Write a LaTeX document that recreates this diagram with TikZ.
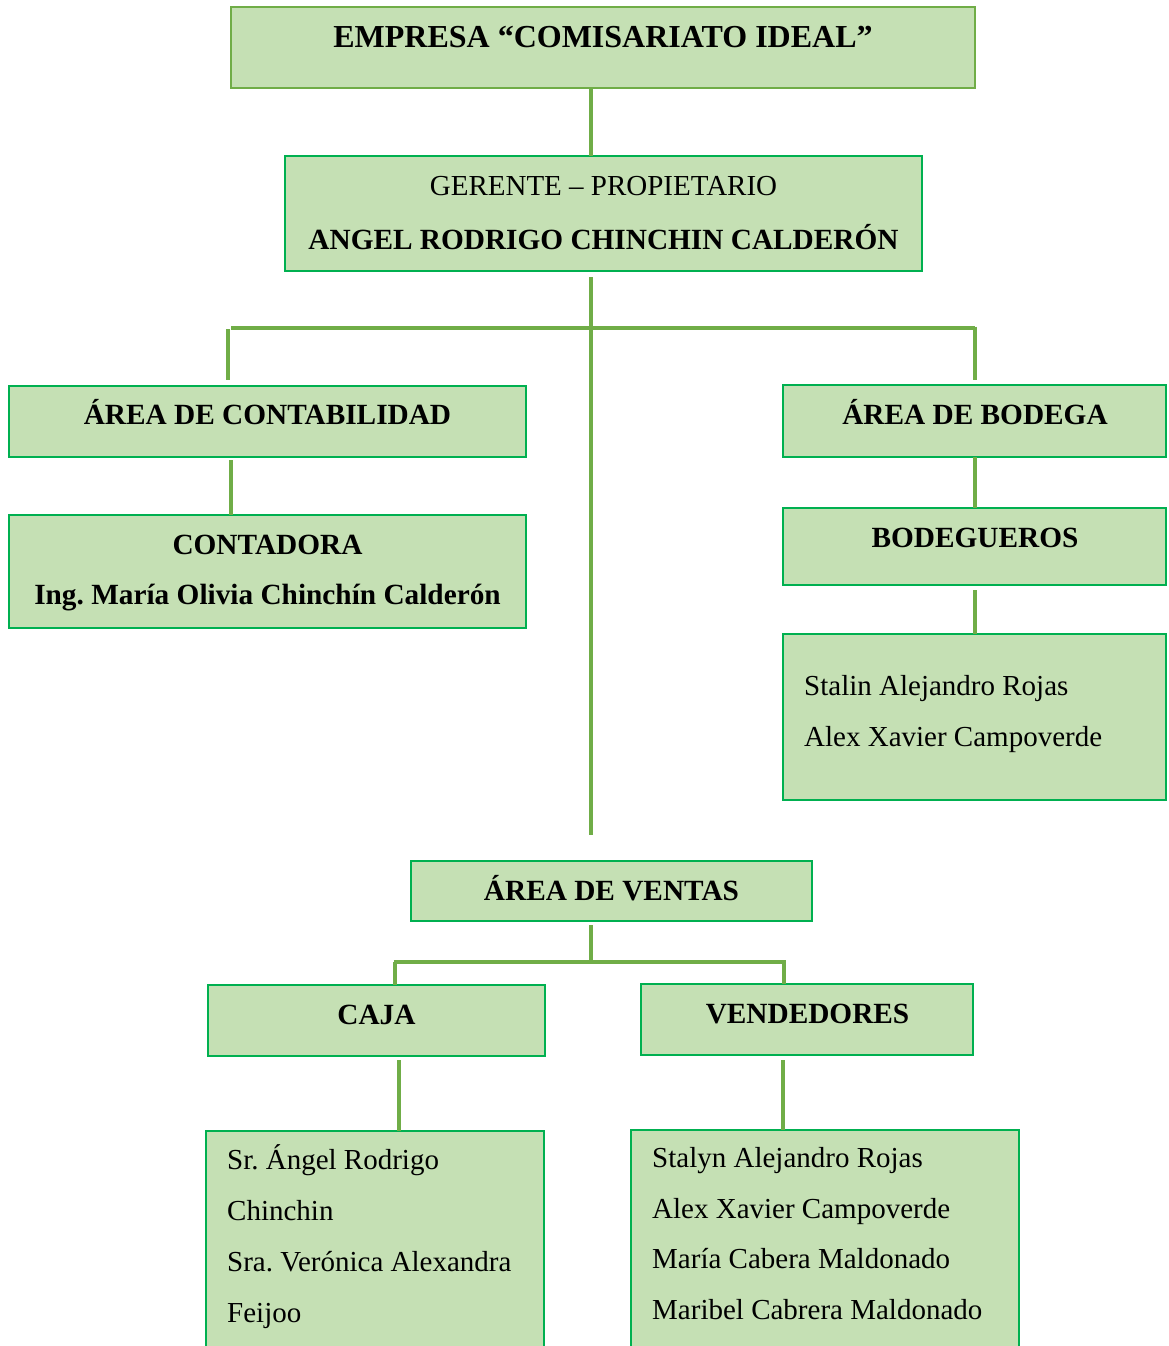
\documentclass[tikz,border=0pt]{standalone}
\usepackage{fontspec}
\setmainfont{Liberation Serif}
\frenchspacing
\definecolor{boxfill}{HTML}{C5E0B4}
\definecolor{boxline}{HTML}{00B050}
\definecolor{conncol}{HTML}{70AD47}
\begin{document}
\begin{tikzpicture}[x=1pt,y=-1pt,
  box/.style={draw=boxline, line width=2.2pt, fill=boxfill, inner sep=0pt, outer sep=0pt, anchor=north west},
  topbox/.style={box, draw=conncol, line width=1.3pt},
  conn/.style={draw=conncol, line width=3.6pt},
  ttl/.style={font=\fontsize{29.3}{35}\selectfont\bfseries\frenchspacing, anchor=base, inner sep=0pt},
  bigttl/.style={font=\fontsize{32}{38}\selectfont\bfseries, anchor=base, inner sep=0pt},
  txt/.style={font=\fontsize{29}{35}\selectfont, anchor=base, inner sep=0pt},
  lst/.style={font=\fontsize{29}{35}\selectfont\frenchspacing, anchor=base west, inner sep=0pt}]
\useasboundingbox (0,0) rectangle (1168,1346);
\clip (0,0) rectangle (1168,1346);
\fill[white] (0,0) rectangle (1168,1346);

% boxes
\node[topbox, minimum width=744pt, minimum height=81pt] (top) at (231,7) {};
\node[box, minimum width=637pt, minimum height=115pt] (ger) at (285,156) {};
\node[box, minimum width=517pt, minimum height=71pt] (contab) at (9,386) {};
\node[box, minimum width=517pt, minimum height=113pt] (contadora) at (9,515) {};
\node[box, minimum width=383pt, minimum height=72pt] (bodega) at (783,385) {};
\node[box, minimum width=383pt, minimum height=77pt] (bodeg) at (783,508) {};
\node[box, minimum width=383pt, minimum height=166pt] (bnames) at (783,634) {};
\node[box, minimum width=401pt, minimum height=60pt] (ventas) at (411,861) {};
\node[box, minimum width=337pt, minimum height=71pt] (caja) at (208,985) {};
\node[box, minimum width=332pt, minimum height=71pt] (vend) at (641,984) {};
\node[box, minimum width=338pt, minimum height=230pt] (cnames) at (206,1131) {};
\node[box, minimum width=388pt, minimum height=230pt] (vnames) at (631,1130) {};

% texts
\node[bigttl] (ttop) at (603,48) {EMPRESA “COMISARIATO IDEAL”};
\node[txt] (tger1) at (603.5,195) {GERENTE – PROPIETARIO};
\node[ttl] (tger2) at (603.5,249) {ANGEL RODRIGO CHINCHIN CALDERÓN};
\node[ttl] (tcontab) at (267.5,424) {ÁREA DE CONTABILIDAD};
\node[ttl] (tcont1) at (267.5,554) {CONTADORA};
\node[ttl] (tcont2) at (267.5,604) {Ing. María Olivia Chinchín Calderón};
\node[ttl] (tbodega) at (975,424) {ÁREA DE BODEGA};
\node[ttl] (tbodeg) at (975,547) {BODEGUEROS};
\node[lst] (tb1) at (804,695) {Stalin Alejandro Rojas};
\node[lst] (tb2) at (804,746) {Alex Xavier Campoverde};
\node[ttl] (tventas) at (611.5,900) {ÁREA DE VENTAS};
\node[ttl] (tcaja) at (376.5,1024) {CAJA};
\node[ttl] (tvend) at (807.5,1023) {VENDEDORES};
\node[lst] (tc1) at (227,1169) {Sr. Ángel Rodrigo};
\node[lst] (tc2) at (227,1220) {Chinchin};
\node[lst] (tc3) at (227,1271) {Sra. Verónica Alexandra};
\node[lst] (tc4) at (227,1322) {Feijoo};
\node[lst] (tv1) at (652,1167) {Stalyn Alejandro Rojas};
\node[lst] (tv2) at (652,1218) {Alex Xavier Campoverde};
\node[lst] (tv3) at (652,1268) {María Cabera Maldonado};
\node[lst] (tv4) at (652,1319) {Maribel Cabrera Maldonado};

% junction coordinates
\coordinate (trunk) at (591,0);
\coordinate (hl) at (231,328);
\coordinate (hr) at (975,328);
\coordinate (cl) at (228,0);
\coordinate (cc) at (231,0);
\coordinate (vj) at (0,962);
\coordinate (vl) at (395,0);
\coordinate (vr) at (784,0);
\coordinate (cx) at (399,0);
\coordinate (vx) at (783,0);

% connectors
\draw[conn] (top.south -| trunk) -- (ger.north -| trunk);
\draw[conn] ([yshift=-6pt]ger.south -| trunk) -- ([yshift=26pt]ventas.north -| trunk);
\draw[conn] (hl) -- (hr);
\draw[conn] ([yshift=-1pt]hl -| cl) -- ([yshift=6pt]contab.north -| cl);
\draw[conn] ([yshift=1.5pt]hr) -- ([yshift=5pt]bodega.north -| hr);
\draw[conn] ([yshift=-3pt]contab.south -| cc) -- (contadora.north -| cc);
\draw[conn] (bodega.south -| hr) -- (bodeg.north -| hr);
\draw[conn] ([yshift=-5pt]bodeg.south -| hr) -- (bnames.north -| hr);
\draw[conn] ([yshift=-4pt]ventas.south -| trunk) -- (vj -| trunk);
\draw[conn] ([xshift=-1.5pt]vj -| vl) -- ([xshift=1.5pt]vj -| vr);
\draw[conn] (vj -| vl) -- (caja.north -| vl);
\draw[conn] (vj -| vr) -- (vend.north -| vr);
\draw[conn] ([yshift=-4pt]caja.south -| cx) -- (cnames.north -| cx);
\draw[conn] ([yshift=-5pt]vend.south -| vx) -- (vnames.north -| vx);
\end{tikzpicture}
\end{document}
